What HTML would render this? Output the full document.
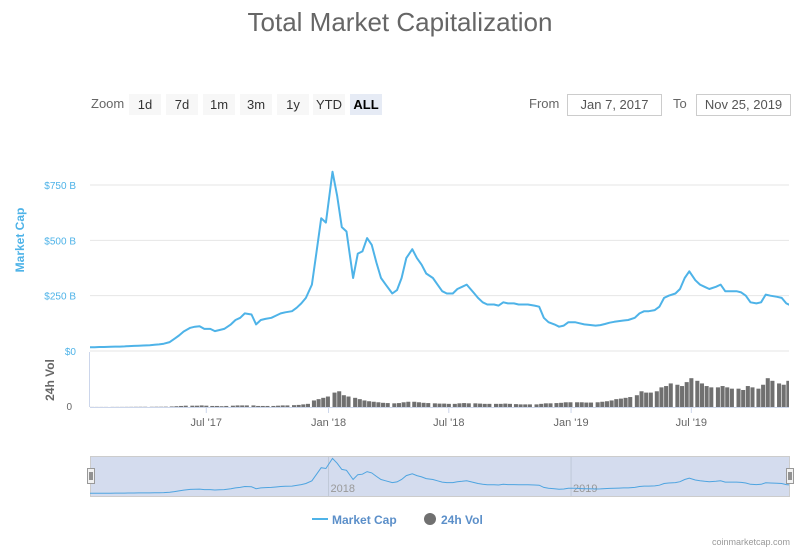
<!DOCTYPE html>
<html><head><meta charset="utf-8"><style>
body{margin:0;background:#fff;font-family:"Liberation Sans",sans-serif;}
#wrap{position:relative;width:800px;height:550px;overflow:hidden;}
.btn{position:absolute;top:94px;height:21px;width:32px;background:#f7f7f7;color:#333;font-size:13px;line-height:21px;text-align:center;}
.inp{position:absolute;top:94px;height:20px;width:93px;border:1px solid #ccc;color:#555;font-size:13px;line-height:20px;text-align:center;}
.lbl{position:absolute;top:96px;font-size:13px;color:#666;}
</style></head><body><div id="wrap">
<div style="position:absolute;top:7px;left:0;width:800px;text-align:center;font-size:26px;color:#666;">Total Market Capitalization</div>
<div class="lbl" style="left:91px">Zoom</div>
<div class="btn" style="left:129px">1d</div>
<div class="btn" style="left:166px">7d</div>
<div class="btn" style="left:203px">1m</div>
<div class="btn" style="left:240px">3m</div>
<div class="btn" style="left:277px">1y</div>
<div class="btn" style="left:313px">YTD</div>
<div class="btn" style="left:350px;background:#e6ebf5;color:#000;font-weight:bold">ALL</div>
<div class="lbl" style="left:529px">From</div>
<div class="inp" style="left:567px">Jan 7, 2017</div>
<div class="lbl" style="left:673px">To</div>
<div class="inp" style="left:696px">Nov 25, 2019</div>
<svg id="svg" width="800" height="550" style="position:absolute;left:0;top:0"></svg>
</div>
<script>
const months=["2017-01","2017-02","2017-03","2017-04","2017-05","2017-06","2017-07","2017-08","2017-09","2017-10","2017-11","2017-12","2018-01","2018-02","2018-03","2018-04","2018-05","2018-06","2018-07","2018-08","2018-09","2018-10","2018-11","2018-12","2019-01","2019-02","2019-03","2019-04","2019-05","2019-06","2019-07","2019-08","2019-09","2019-10","2019-11"];
const sampleDays=[7,14,21,28];
const marketCap=[
17,17,18,18, 19,20,20,21, 22,23,24,25, 26,28,30,33, 40,55,70,88, 105,110,112,100, 100,90,95,100, 120,140,150,170, 165,120,140,145, 150,160,170,175, 180,195,215,240, 300,450,600,580,
810,700,560,540, 330,440,450,510, 480,400,330,300, 260,275,330,420, 460,420,390,350, 330,300,270,260, 260,280,290,300, 265,240,220,210, 210,205,220,215, 215,210,210,210, 205,200,150,130, 120,110,115,130,
130,125,120,118, 115,117,122,128, 132,135,138,140, 150,170,180,180, 185,200,240,250, 260,280,330,360, 320,300,290,280, 290,300,270,270, 270,265,250,220, 215,220,255,250, 245,240,215,205];
const volume=[
0.3,0.3,0.3,0.3, 0.4,0.4,0.4,0.5, 0.6,0.7,0.8,0.8, 0.8,1,1,1.2, 2,3,4,5, 5,5,6,5, 4,4,3,4, 5,6,6,6, 6,4,4,4, 4,5,6,6, 7,8,10,12, 25,30,35,40,
55,60,45,40, 35,30,25,22, 20,18,16,15, 14,15,18,20, 20,18,16,15, 14,13,13,12, 12,14,15,14, 14,13,12,12, 12,12,13,12, 11,10,10,10, 10,12,14,14, 15,16,18,18,
18,18,17,17, 18,20,22,25, 30,32,35,38, 45,60,55,55, 60,75,80,90, 85,80,95,110, 100,90,80,75, 75,80,75,70, 70,65,80,75, 70,85,110,100, 90,85,100,95];
const capTicks=[0,250,500,750];
const capTickLabels=["$0","$250 B","$500 B","$750 B"];
const xTickDates=["2017-07-01","2018-01-01","2018-07-01","2019-01-01","2019-07-01"];
const xTickLabels=["Jul '17","Jan '18","Jul '18","Jan '19","Jul '19"];
const navTickDates=["2018-01-01","2019-01-01"];
const navTickLabels=["2018","2019"];

const NS="http://www.w3.org/2000/svg";
const svg=document.getElementById('svg');
function mk(t,a,p){const e=document.createElementNS(NS,t);for(const k in a)e.setAttribute(k,a[k]);(p||svg).appendChild(e);return e;}
const t0=Date.UTC(2017,0,7),t1=Date.UTC(2019,10,25);
const X0=90,X1=789;
function xs(t){return X0+(t-t0)/(t1-t0)*(X1-X0);}
function yCap(v){return 351-v*0.2213;}
function yVol(v){return 407-v/210*55;}
function yNav(v){return 494-v/820*36;}
const times=[];months.forEach(m=>{const [y,mo]=m.split('-').map(Number);sampleDays.forEach(d=>times.push(Date.UTC(y,mo-1,d)));});
function dt(s){const [y,m,d]=s.split('-').map(Number);return Date.UTC(y,m-1,d);}
const defs=mk('defs',{});const cp=mk('clipPath',{id:'c'},defs);mk('rect',{x:X0,y:100,width:X1-X0,height:450},cp);
capTicks.forEach((v,i)=>{
 const g=mk('line',{x1:X0,x2:X1,y1:yCap(v),y2:yCap(v),stroke:'#e6e6e6','stroke-width':1});
 
 const l=mk('text',{x:76,y:yCap(v)+4,'text-anchor':'end','font-size':10,fill:'#4eb3e8'});l.textContent=capTickLabels[i];
 
});
const yt=mk('text',{x:24,y:240,'text-anchor':'middle','font-size':12,fill:'#4eb3e8','font-weight':'bold',transform:'rotate(-90 24 240)'});yt.textContent='Market Cap';

const vt=mk('text',{x:54,y:380,'text-anchor':'middle','font-size':12,fill:'#666','font-weight':'bold',transform:'rotate(-90 54 380)'});vt.textContent='24h Vol';

const v0=mk('text',{x:72,y:410,'text-anchor':'end','font-size':10,fill:'#666'});v0.textContent='0';

mk('line',{x1:89.5,x2:89.5,y1:352,y2:407,stroke:'#ccd6eb'});
const vg=mk('g',{'clip-path':'url(#c)'});
volume.forEach((v,i)=>{
 const x=xs(times[i]);const w=xs(times[i]+7*864e5)-x;
 const r=mk('rect',{x:x,y:yVol(v),width:Math.max(w-0.6,1),height:407-yVol(v),fill:'#707070'},vg);
 
});
mk('line',{x1:X0,x2:X1,y1:407.5,y2:407.5,stroke:'#ccd6eb'});
xTickDates.forEach((d,i)=>{
 const x=xs(dt(d));mk('line',{x1:x,x2:x,y1:407,y2:413,stroke:'#ccd6eb'});
 const l=mk('text',{x:x,y:426,'text-anchor':'middle','font-size':11,fill:'#666'});l.textContent=xTickLabels[i];
 
});
let d='';marketCap.forEach((v,i)=>{d+=(i?'L':'M')+xs(times[i]).toFixed(1)+' '+yCap(v).toFixed(1);});
const ln=mk('path',{d:d,fill:'none',stroke:'#4eb3e8','stroke-width':2,'clip-path':'url(#c)','stroke-linejoin':'round'});

const nb=mk('rect',{x:90.5,y:456.5,width:699,height:40,fill:'#d4dcee',stroke:'#cccccc'});

navTickDates.forEach((s,i)=>{const x=xs(dt(s));mk('line',{x1:x,x2:x,y1:457,y2:496,stroke:'#bfc8d8'});
 const l=mk('text',{x:x+2,y:492,'font-size':11,fill:'#999'});l.textContent=navTickLabels[i];
 });
let nd='';marketCap.forEach((v,i)=>{nd+=(i?'L':'M')+xs(times[i]).toFixed(1)+' '+yNav(v).toFixed(1);});
const nl=mk('path',{d:nd,fill:'none',stroke:'#4ea4e0','stroke-width':1,'clip-path':'url(#c)'});

[87,786].forEach(x=>{const h=mk('rect',{x:x+0.5,y:468.5,width:7,height:15,fill:'#f2f2f2',stroke:'#999'});
 
 mk('line',{x1:x+3,x2:x+3,y1:472,y2:480,stroke:'#333'});mk('line',{x1:x+5,x2:x+5,y1:472,y2:480,stroke:'#333'});});
const lg=mk('g',{});
mk('line',{x1:312,x2:328,y1:519,y2:519,stroke:'#4eb3e8','stroke-width':2},lg);
const t1e=mk('text',{x:332,y:524,'font-size':12,'font-weight':'bold',fill:'#5b8fc9'},lg);t1e.textContent='Market Cap';

mk('circle',{cx:430,cy:519,r:6,fill:'#707070'},lg);
const t2e=mk('text',{x:441,y:524,'font-size':12,'font-weight':'bold',fill:'#5b8fc9'},lg);t2e.textContent='24h Vol';

const cr=mk('text',{x:790,y:545,'text-anchor':'end','font-size':9,fill:'#999'});cr.textContent='coinmarketcap.com';

</script></body></html>
